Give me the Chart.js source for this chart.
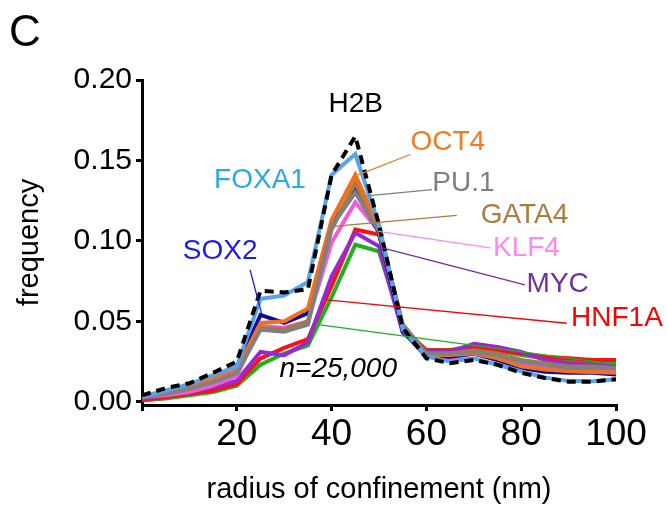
<!DOCTYPE html>
<html>
<head>
<meta charset="utf-8">
<script src="https://cdn.jsdelivr.net/npm/chart.js@4.4.1/dist/chart.umd.min.js"></script>
<style>
  html, body { margin: 0; padding: 0; background: #fff; }
  #wrap { width: 667px; height: 509px; position: relative; }
</style>
</head>
<body>
<div id="wrap"><canvas id="c" width="667" height="509"></canvas></div>
<script>
// ---- data ----
const radius = [0, 5, 10, 15, 20, 25, 30, 35, 40, 45, 50, 55, 60, 65, 70, 75, 80, 85, 90, 95, 100];
const yTicks = [0, 0.05, 0.10, 0.15, 0.20];
const xTicks = [0, 20, 40, 60, 80, 100];

const H2B   = [0.004, 0.0085, 0.0115, 0.018, 0.025, 0.069, 0.068, 0.070, 0.141, 0.165, 0.110, 0.046, 0.027, 0.024, 0.026, 0.023, 0.018, 0.0148, 0.0125, 0.0125, 0.014];
const FOXA1 = [0.003, 0.007, 0.011, 0.0166, 0.022, 0.064, 0.066, 0.0745, 0.141, 0.154, 0.110, 0.045, 0.028, 0.025, 0.027, 0.023, 0.019, 0.015, 0.013, 0.0128, 0.014];
const OCT4  = [0.004, 0.006, 0.0085, 0.015, 0.020, 0.049, 0.050, 0.058, 0.113, 0.141, 0.108, 0.047, 0.029, 0.029, 0.030, 0.027, 0.022, 0.020, 0.019, 0.0185, 0.018];
const PU1   = [0.003, 0.005, 0.008, 0.012, 0.018, 0.0447, 0.0436, 0.048, 0.109, 0.130, 0.106, 0.048, 0.030, 0.030, 0.031, 0.029, 0.025, 0.023, 0.021, 0.021, 0.021];
const GATA4 = [0.003, 0.005, 0.008, 0.013, 0.019, 0.046, 0.045, 0.050, 0.107, 0.136, 0.107, 0.048, 0.030, 0.030, 0.032, 0.030, 0.026, 0.024, 0.022, 0.022, 0.021];
const SOX2  = [0.003, 0.006, 0.009, 0.014, 0.021, 0.054, 0.049, 0.055, 0.110, 0.132, 0.105, 0.044, 0.028, 0.028, 0.030, 0.026, 0.021, 0.0187, 0.018, 0.018, 0.017];
const KLF4  = [0.003, 0.004, 0.006, 0.010, 0.016, 0.047, 0.046, 0.050, 0.099, 0.124, 0.106, 0.044, 0.029, 0.027, 0.030, 0.028, 0.023, 0.021, 0.020, 0.019, 0.019];
const MYC   = [0.002, 0.004, 0.006, 0.009, 0.013, 0.031, 0.029, 0.037, 0.078, 0.105, 0.0966, 0.043, 0.031, 0.031, 0.036, 0.034, 0.031, 0.026, 0.024, 0.023, 0.022];
const HNF1A = [0.001, 0.003, 0.005, 0.007, 0.011, 0.027, 0.0335, 0.039, 0.072, 0.107, 0.104, 0.045, 0.032, 0.032, 0.0335, 0.032, 0.030, 0.028, 0.027, 0.026, 0.026];
const GREEN = [0.001, 0.002, 0.004, 0.006, 0.010, 0.023, 0.030, 0.035, 0.065, 0.0976, 0.0935, 0.046, 0.032, 0.032, 0.035, 0.032, 0.029, 0.027, 0.026, 0.025, 0.024];

// ---- styling / annotations (kept apart from data) ----
const FONT = "'Liberation Sans', Arial, Helvetica, sans-serif";

const series = [
  { label: 'H2B',   values: H2B,   color: '#000000', dash: [9, 6] },
  { label: 'FOXA1', values: FOXA1, color: '#5aa3ea' },
  { label: 'PU.1',  values: PU1,   color: '#808080' },
  { label: 'OCT4',  values: OCT4,  color: '#f26f1c' },
  { label: 'GATA4', values: GATA4, color: '#a87a40' },
  { label: 'SOX2',  values: SOX2,  color: '#0a0aa8' },
  { label: 'KLF4',  values: KLF4,  color: '#f25ad8' },
  { label: 'MYC',   values: MYC,   color: '#9a28d0' },
  { label: 'HNF1A', values: HNF1A, color: '#ff1010' },
  { label: 'green series', values: GREEN, color: '#1fb01f' }
];

// text labels in data coordinates; leader lines as [x1,y1,x2,y2] in data coordinates
const notes = [
  { text: 'H2B',   x: 45.1, y: 0.185, color: '#000000' },
  { text: 'OCT4',  x: 64.5, y: 0.1615, color: '#f47920', lead: [45.6, 0.141, 56.6, 0.1537], leadColor: '#f47920' },
  { text: 'PU.1',  x: 67.8, y: 0.136, color: '#7f7f7f', lead: [46.4, 0.1277, 61.2, 0.1319], leadColor: '#7f7f7f' },
  { text: 'GATA4', x: 80.7, y: 0.1157, color: '#a97c42', lead: [40.4, 0.109, 66.4, 0.1159], leadColor: '#a97c42' },
  { text: 'KLF4',  x: 81.1, y: 0.0951, color: '#ff88f4', lead: [49.9, 0.1059, 73.5, 0.0956], leadColor: '#ff88f4' },
  { text: 'MYC',   x: 87.7, y: 0.0733, color: '#7030a0', lead: [49.5, 0.0966, 80.8, 0.0727], leadColor: '#7030a0' },
  { text: 'HNF1A', x: 100.2, y: 0.0518, color: '#ff0000', lead: [39.0, 0.0634, 89.6, 0.0488], leadColor: '#ff0000' },
  { text: 'SOX2',  x: 16.5, y: 0.0935, color: '#1a1aee', lead: [22.8, 0.082, 25.3, 0.054], leadColor: '#1a1aee' },
  { text: 'FOXA1', x: 24.9, y: 0.1375, color: '#29abe2' },
  { text: '', x: 0, y: 0, color: '#1fb01f', lead: [37.6, 0.0478, 100, 0.0233], leadColor: '#1fb01f' },
  { text: 'n=25,000', x: 41.4, y: 0.0204, color: '#000000', italic: true }
];

const notePlugin = {
  id: 'notes',
  afterDatasetsDraw(chart) {
    const ctx = chart.ctx;
    const xs = chart.scales.x, ys = chart.scales.y;
    ctx.save();
    notes.forEach(n => {
      if (n.lead) {
        ctx.beginPath();
        ctx.strokeStyle = n.leadColor;
        ctx.lineWidth = 1.3;
        ctx.moveTo(xs.getPixelForValue(n.lead[0]), ys.getPixelForValue(n.lead[1]));
        ctx.lineTo(xs.getPixelForValue(n.lead[2]), ys.getPixelForValue(n.lead[3]));
        ctx.stroke();
      }
    });
    notes.forEach(n => {
      if (!n.text) return;
      ctx.font = (n.italic ? 'italic ' : '') + '28px ' + FONT;
      ctx.fillStyle = n.color;
      ctx.textAlign = 'center';
      ctx.textBaseline = 'middle';
      ctx.fillText(n.text, xs.getPixelForValue(n.x), ys.getPixelForValue(n.y));
    });
    // panel letter
    ctx.font = '44px ' + FONT;
    ctx.fillStyle = '#000';
    ctx.textAlign = 'left';
    ctx.textBaseline = 'alphabetic';
    ctx.fillText('C', 9, 46);
    ctx.restore();
  }
};

new Chart(document.getElementById('c'), {
  type: 'line',
  data: {
    datasets: series.map(s => ({
      label: s.label,
      data: radius.map((r, i) => ({ x: r, y: s.values[i] })),
      borderColor: s.color,
      backgroundColor: s.color,
      borderWidth: 4,
      borderDash: s.dash || [],
      pointRadius: 0,
      tension: 0,
      fill: false
    }))
  },
  options: {
    responsive: false,
    animation: false,
    events: [],
    layout: { padding: { left: 0, top: 80, right: 51, bottom: 0 } },
    plugins: { legend: { display: false }, tooltip: { enabled: false } },
    scales: {
      x: {
        type: 'linear',
        min: 0, max: 100,
        afterBuildTicks: s => { s.ticks = xTicks.map(v => ({ value: v })); },
        afterFit: s => { s.height = 104; },
        ticks: {
          color: '#000',
          font: { family: FONT, size: 37 },
          padding: 2,
          maxRotation: 0,
          autoSkip: false,
          callback: v => (v === 0 ? '' : String(v))
        },
        grid: { drawOnChartArea: false, drawTicks: true, tickLength: 6, color: '#000', lineWidth: 3 },
        border: { display: true, color: '#000', width: 3 },
        title: {
          display: true,
          text: 'radius of confinement (nm)',
          color: '#000',
          font: { family: FONT, size: 29 },
          padding: { top: 0, bottom: 2 }
        }
      },
      y: {
        type: 'linear',
        min: -0.002, max: 0.2,
        afterBuildTicks: s => { s.ticks = yTicks.map(v => ({ value: v })); },
        afterFit: s => { s.width = 142; },
        ticks: {
          color: '#000',
          font: { family: FONT, size: 30 },
          padding: 4,
          autoSkip: false,
          callback: v => Number(v).toFixed(2)
        },
        grid: { drawOnChartArea: false, drawTicks: true, tickLength: 6, color: '#000', lineWidth: 3 },
        border: { display: true, color: '#000', width: 3 },
        title: {
          display: true,
          text: 'frequency',
          color: '#000',
          font: { family: FONT, size: 29 },
          padding: { top: 13, bottom: 0 }
        }
      }
    }
  },
  plugins: [notePlugin]
});
</script>
</body>
</html>
